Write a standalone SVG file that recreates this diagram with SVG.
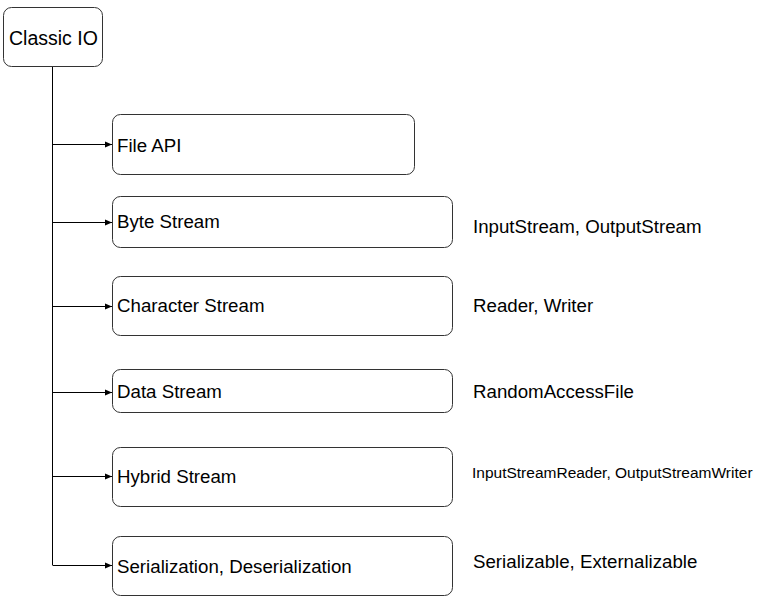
<svg xmlns="http://www.w3.org/2000/svg" width="765" height="612" viewBox="0 0 765 612">
<style>
.box{fill:#fff;stroke:#333;stroke-width:1}
.t{font-family:"Liberation Sans",Arial,sans-serif;font-size:18.7px;fill:#000;dominant-baseline:central}
.s{font-size:15.5px}
.c{stroke:#000;stroke-width:1;fill:none}
</style>
<defs>
<marker id="ah" viewBox="0 0 8 8" refX="8" refY="4" markerWidth="7" markerHeight="7" markerUnits="userSpaceOnUse" orient="auto">
<path d="M0,0.5 L8,4 L0,7.5 Z" fill="#000"/>
</marker>
</defs>
<rect width="765" height="612" fill="#fff"/>
<g id="connectors">
<path class="c" d="M52.5,66 V565"/>
<path class="c" d="M52.5,144.5 H112" marker-end="url(#ah)"/>
<path class="c" d="M52.5,222.5 H112" marker-end="url(#ah)"/>
<path class="c" d="M52.5,306.5 H112" marker-end="url(#ah)"/>
<path class="c" d="M52.5,392.5 H112" marker-end="url(#ah)"/>
<path class="c" d="M52.5,476.5 H112" marker-end="url(#ah)"/>
<path class="c" d="M52.5,565.5 H112" marker-end="url(#ah)"/>
</g>
<g id="classic-io">
<rect class="box" x="3.5" y="7.5" width="99" height="59" rx="8"/>
<text class="t" x="9" y="38" style="font-size:19.5px">Classic IO</text>
</g>
<g id="file-api">
<rect class="box" x="112.5" y="114.5" width="302" height="60" rx="8"/>
<text class="t" x="117" y="145">File API</text>
</g>
<g id="byte-stream">
<rect class="box" x="112.5" y="196.5" width="340" height="51" rx="8"/>
<text class="t" x="117" y="221">Byte Stream</text>
</g>
<g id="character-stream">
<rect class="box" x="112.5" y="276.5" width="340" height="59" rx="8"/>
<text class="t" x="117" y="305">Character Stream</text>
</g>
<g id="data-stream">
<rect class="box" x="112.5" y="369.5" width="340" height="43" rx="8"/>
<text class="t" x="117" y="391">Data Stream</text>
</g>
<g id="hybrid-stream">
<rect class="box" x="112.5" y="447.5" width="340" height="59" rx="8"/>
<text class="t" x="117" y="476">Hybrid Stream</text>
</g>
<g id="serialization">
<rect class="box" x="112.5" y="536.5" width="340" height="59" rx="8"/>
<text class="t" x="117" y="566">Serialization, Deserialization</text>
</g>
<g id="labels">
<text class="t" x="473" y="226">InputStream, OutputStream</text>
<text class="t" x="473" y="305">Reader, Writer</text>
<text class="t" x="473" y="391">RandomAccessFile</text>
<text class="t s" x="472" y="472">InputStreamReader, OutputStreamWriter</text>
<text class="t" x="473" y="561">Serializable, Externalizable</text>
</g>
</svg>
